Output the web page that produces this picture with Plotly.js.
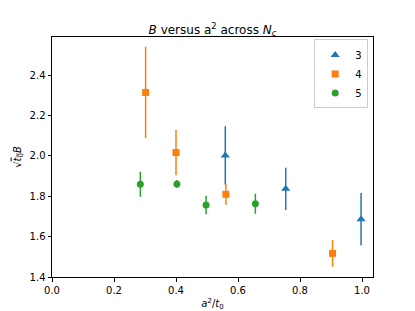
<!DOCTYPE html>
<html><head><meta charset="utf-8">
<script src="https://cdn.plot.ly/plotly-3.0.1.min.js"></script>
<style>html,body{margin:0;padding:0;background:#fff}#plot{width:415px;height:311px}</style>
</head><body><div id="plot"></div>
<script>
var seriesNames = ["3", "4", "5"];
var x3 = [0.559, 0.754, 0.997];
var y3 = [2.003, 1.837, 1.686];
var e3 = [0.145, 0.105, 0.13];
var x4 = [0.302, 0.400, 0.561, 0.905];
var y4 = [2.315, 2.017, 1.810, 1.517];
var e4 = [0.227, 0.112, 0.052, 0.066];
var x5 = [0.285, 0.403, 0.497, 0.656];
var y5 = [1.860, 1.861, 1.757, 1.763];
var e5 = [0.062, 0.02, 0.046, 0.05];
var colors = ["#1f77b4", "#ff7f0e", "#2ca02c"];
var symbols = ["triangle-up", "square", "circle"];
var sizes = [8, 7, 7];
var xs = [x3, x4, x5], ys = [y3, y4, y5], es = [e3, e4, e5];
var traces = [];
for (var i = 0; i < 3; i++) {
  traces.push({
    type: "scatter", mode: "markers", name: seriesNames[i],
    x: xs[i], y: ys[i],
    error_y: {type: "data", array: es[i], visible: true, color: colors[i], thickness: 1.5, width: 0},
    marker: {color: colors[i], symbol: symbols[i], size: sizes[i], line: {width: 0}}
  });
}
var axisCommon = {
  showgrid: false, zeroline: false, showline: true, linecolor: "#000", linewidth: 1,
  mirror: true, ticks: "outside", ticklen: 3.5, tickwidth: 1, tickcolor: "#000",
  tickfont: {family: "DejaVu Sans", size: 10, color: "#000"}
};
var layout = {
  width: 415, height: 311,
  margin: {l: 52, r: 42, t: 37, b: 34},
  paper_bgcolor: "#fff", plot_bgcolor: "#fff",
  font: {family: "DejaVu Sans", color: "#000"},
  title: {text: "<i>B</i> versus a<sup>2</sup> across <i>N<sub>c</sub></i>", font: {size: 12, family: "DejaVu Sans", color: "#000"}, x: 0.512, xanchor: "center", y: 0.905, yanchor: "middle"},
  xaxis: Object.assign({}, axisCommon, {range: [0, 1.0355], tickvals: [0, 0.2, 0.4, 0.6, 0.8, 1.0], ticktext: ["0.0","0.2","0.4","0.6","0.8","1.0"],
    title: {text: "<i>a</i><sup>2</sup>/<i>t</i><sub>0</sub>", font: {size: 10, family: "DejaVu Sans"}, standoff: 6}}),
  yaxis: Object.assign({}, axisCommon, {range: [1.4, 2.59], tickvals: [1.4, 1.6, 1.8, 2.0, 2.2, 2.4], ticktext: ["1.4","1.6","1.8","2.0","2.2","2.4"],
    title: {text: "√<span style=\"text-decoration:overline\"><i>t</i><sub>0</sub></span><i>B</i>", font: {size: 10, family: "DejaVu Sans"}, standoff: 6}}),
  showlegend: true,
  legend: {x: 0.985, xanchor: "right", y: 0.99, yanchor: "top", bordercolor: "#cccccc", borderwidth: 1, bgcolor: "rgba(255,255,255,0.8)",
    font: {size: 10, family: "DejaVu Sans"}, itemwidth: 30, tracegroupgap: 0}
};
Plotly.newPlot("plot", traces, layout, {displayModeBar: false, staticPlot: true});
</script></body></html>
